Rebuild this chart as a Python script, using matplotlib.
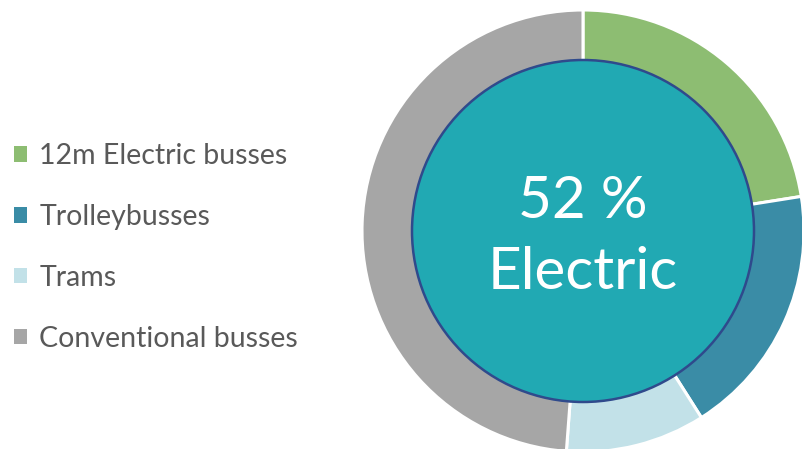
import matplotlib.pyplot as plt
from matplotlib.patches import Circle

plt.rcParams['font.family'] = ['Lato', 'DejaVu Sans']

# share of the fleet (percent)
labels = ['12m Electric busses', 'Trolleybusses', 'Trams', 'Conventional busses']
shares = [22.5, 18.5, 10.2, 48.8]
colors = ['#8DBD72', '#3A8CA6', '#C2E1E8', '#A6A6A6']
center_text = '52 %\nElectric'

fig = plt.figure(figsize=(8.02, 4.49), dpi=100)
ax = fig.add_axes([0, 0, 1, 1])

wedges, _ = ax.pie(shares, colors=colors, startangle=90, counterclock=False,
                   radius=221, center=(583, 218),
                   wedgeprops=dict(width=60, edgecolor='white', linewidth=2.2))

# filled centre circle
ax.add_patch(Circle((583, 218), 171, facecolor='#21A9B3',
                    edgecolor='#2F4A8C', linewidth=1.8, zorder=5))
ax.text(583, 212, center_text, ha='center', va='center', color='white',
        fontsize=42, linespacing=1.4, zorder=6)

ax.set_xlim(0, 802)
ax.set_ylim(0, 449)
ax.set_aspect('equal')
ax.axis('off')

leg = ax.legend(wedges, labels, loc='center left', bbox_to_anchor=(-0.014, 0.449),
                frameon=False, fontsize=20.5, handlelength=0.46, handleheight=0.46,
                handletextpad=0.42, labelspacing=1.22, labelcolor='#595959')
for h in leg.legend_handles:
    h.set_edgecolor('none')

fig.savefig('out.png', dpi=100)
